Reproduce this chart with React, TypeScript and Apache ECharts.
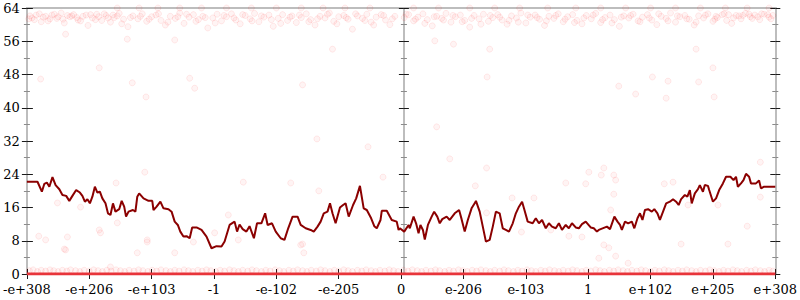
import React, { useEffect, useRef } from "react";
import * as echarts from "echarts";

// x-axis tick labels (positions -6 .. 6)
const xLabels = ["-e+308", "-e+206", "-e+103", "-1", "-e-102", "-e-205", "0", "e-206", "e-103", "1", "e+102", "e+205", "e+308"];
const yMin = 0;
const yMax = 64;
const yStep = 8;

// rolling trend line (dark red)
const trendLeft: number[][] = [
  [-6.0, 22.2], [-5.83, 22.2], [-5.76, 19.8], [-5.72, 21.7], [-5.68, 22.0], [-5.64, 21.0], [-5.59, 23.3], [-5.54, 21.4],
  [-5.48, 20.4], [-5.43, 19.0], [-5.37, 18.8], [-5.32, 17.6], [-5.27, 18.8], [-5.21, 20.2], [-5.15, 19.6], [-5.11, 18.8],
  [-5.07, 17.4], [-5.03, 18.0], [-4.99, 17.0], [-4.95, 18.6], [-4.91, 21.0], [-4.87, 19.6], [-4.83, 19.8], [-4.79, 18.2],
  [-4.74, 17.0], [-4.7, 14.6], [-4.66, 14.2], [-4.62, 17.0], [-4.58, 15.0], [-4.52, 15.6], [-4.48, 17.6], [-4.44, 16.2],
  [-4.41, 13.8], [-4.37, 15.0], [-4.3, 15.4], [-4.26, 15.0], [-4.23, 18.6], [-4.2, 19.4], [-4.13, 18.2], [-4.05, 17.6],
  [-3.99, 17.6], [-3.97, 15.4], [-3.92, 16.2], [-3.86, 17.4], [-3.81, 15.8], [-3.73, 15.6], [-3.68, 15.0], [-3.63, 12.6],
  [-3.58, 11.8], [-3.54, 10.2], [-3.49, 9.0], [-3.44, 9.1], [-3.39, 8.6], [-3.35, 11.2], [-3.28, 11.2], [-3.2, 10.6],
  [-3.12, 9.0], [-3.04, 6.2], [-2.96, 6.7], [-2.88, 6.6], [-2.83, 7.8], [-2.75, 11.8], [-2.67, 12.6], [-2.63, 10.2],
  [-2.59, 11.9], [-2.54, 10.8], [-2.48, 10.2], [-2.43, 11.5], [-2.36, 8.6], [-2.31, 12.2], [-2.24, 12.2], [-2.18, 14.6],
  [-2.14, 11.8], [-2.07, 12.2], [-2.01, 10.2], [-1.93, 8.6], [-1.87, 8.2], [-1.81, 11.0], [-1.74, 13.8], [-1.66, 13.8],
  [-1.61, 11.8], [-1.53, 11.0], [-1.45, 10.6], [-1.4, 10.2], [-1.34, 11.4], [-1.29, 12.6], [-1.24, 14.6], [-1.18, 15.0],
  [-1.14, 17.0], [-1.1, 14.6], [-1.05, 12.2], [-0.98, 16.0], [-0.93, 16.6], [-0.89, 17.0], [-0.84, 13.8], [-0.77, 16.6],
  [-0.72, 18.2], [-0.66, 21.2], [-0.6, 15.8], [-0.55, 15.4], [-0.48, 13.4], [-0.43, 11.5], [-0.39, 11.0], [-0.33, 13.0],
  [-0.31, 15.2], [-0.23, 15.2], [-0.15, 13.0], [-0.07, 12.6], [-0.04, 10.6], [-0.02, 11.0],
];
const trendRight: number[][] = [
  [0.05, 10.2], [0.12, 11.8], [0.14, 11.0], [0.2, 13.8], [0.24, 12.2], [0.28, 9.8], [0.31, 11.8], [0.35, 10.6],
  [0.38, 8.3], [0.43, 11.8], [0.49, 13.8], [0.53, 15.0], [0.58, 13.8], [0.62, 12.2], [0.66, 13.2], [0.73, 13.8],
  [0.78, 13.0], [0.86, 14.6], [0.93, 15.4], [0.97, 13.2], [1.02, 10.2], [1.07, 13.0], [1.13, 15.8], [1.18, 17.0],
  [1.2, 17.6], [1.26, 15.0], [1.31, 11.4], [1.36, 7.8], [1.42, 8.2], [1.47, 11.4], [1.52, 15.0], [1.58, 14.6],
  [1.63, 11.0], [1.68, 10.6], [1.73, 10.2], [1.79, 12.2], [1.84, 14.6], [1.89, 16.2], [1.94, 17.4], [1.97, 15.8],
  [2.03, 12.6], [2.11, 12.2], [2.16, 13.4], [2.21, 12.2], [2.26, 13.0], [2.32, 11.0], [2.37, 12.2], [2.42, 11.4],
  [2.48, 11.0], [2.53, 12.2], [2.58, 10.6], [2.64, 11.8], [2.69, 11.0], [2.74, 12.2], [2.8, 11.2], [2.85, 11.0],
  [2.9, 12.0], [2.96, 12.6], [3.04, 11.2], [3.09, 11.0], [3.14, 10.2], [3.17, 10.6], [3.3, 11.4], [3.35, 10.8],
  [3.42, 13.8], [3.47, 12.6], [3.51, 11.8], [3.54, 10.6], [3.59, 12.6], [3.64, 12.2], [3.7, 12.6], [3.74, 11.0],
  [3.79, 13.4], [3.83, 14.6], [3.87, 13.0], [3.91, 15.4], [3.96, 15.6], [4.02, 15.0], [4.06, 15.6], [4.11, 14.6],
  [4.15, 13.0], [4.2, 15.0], [4.25, 17.0], [4.31, 17.4], [4.36, 18.0], [4.41, 17.4], [4.45, 16.6], [4.49, 18.0],
  [4.55, 19.0], [4.59, 18.6], [4.63, 20.2], [4.66, 17.0], [4.71, 19.4], [4.76, 20.4], [4.79, 21.4], [4.84, 19.8],
  [4.87, 21.4], [4.92, 21.2], [4.94, 20.2], [5.0, 17.4], [5.05, 18.2], [5.1, 20.2], [5.16, 21.8], [5.21, 23.4],
  [5.28, 23.4], [5.33, 22.6], [5.37, 23.4], [5.4, 21.0], [5.45, 21.8], [5.49, 22.6], [5.53, 24.1], [5.58, 23.4],
  [5.61, 21.8], [5.69, 21.8], [5.74, 22.5], [5.77, 20.6], [5.82, 21.0], [6.0, 21.0],
];

// faint sample points near the top
const topBand: number[][] = [
  [-5.95, 62.1], [-5.92, 61.6], [-5.88, 61.2], [-5.8, 62.6], [-5.74, 61.8], [-5.7, 62.0], [-5.66, 60.9], [-5.6, 62.3],
  [-5.52, 61.5], [-5.5, 61.9], [-5.45, 62.8], [-5.4, 60.4], [-5.35, 62.2], [-5.31, 61.9], [-5.25, 62.4], [-5.2, 61.7],
  [-5.18, 61.1], [-5.1, 62.0], [-5.05, 62.3], [-5.02, 59.8], [-4.95, 61.6], [-4.88, 62.5], [-4.85, 61.9], [-4.8, 61.0],
  [-4.73, 62.2], [-4.7, 61.6], [-4.66, 60.6], [-4.6, 61.7], [-4.55, 62.1], [-4.52, 62.7], [-4.45, 61.3], [-4.38, 59.5],
  [-4.3, 62.1], [-4.22, 61.4], [-4.15, 62.6], [-4.08, 60.8], [-4.0, 61.9], [-3.93, 62.3], [-3.85, 61.0], [-3.78, 59.9],
  [-3.7, 62.0], [-3.62, 61.5], [-3.55, 62.8], [-3.48, 60.3], [-3.4, 61.8], [-3.33, 62.4], [-3.25, 61.2], [-3.18, 62.0],
  [-3.1, 59.2], [-3.02, 61.6], [-2.95, 62.5], [-2.88, 60.9], [-2.8, 61.9], [-2.72, 62.6], [-2.65, 61.1], [-2.58, 60.2],
  [-2.5, 62.2], [-2.42, 61.4], [-2.35, 62.7], [-2.28, 60.7], [-2.2, 61.8], [-2.12, 62.3], [-2.05, 59.6], [-1.97, 61.5],
  [-1.9, 62.4], [-1.82, 61.0], [-1.75, 62.1], [-1.68, 60.5], [-1.6, 61.7], [-1.52, 62.6], [-1.45, 61.2], [-1.38, 59.9],
  [-1.3, 62.0], [-1.22, 61.6], [-1.15, 62.8], [-1.08, 60.8], [-1.0, 61.9], [-0.92, 62.2], [-0.85, 61.3], [-0.78, 58.9],
  [-0.7, 62.1], [-0.62, 61.5], [-0.55, 62.5], [-0.48, 60.6], [-0.4, 61.8], [-0.32, 62.4], [-0.25, 61.1], [-0.18, 60.0],
  [-0.1, 62.0], [0.05, 61.7], [0.12, 62.4], [0.2, 60.9], [0.27, 61.8], [0.35, 62.6], [0.42, 61.2], [0.5, 59.7],
  [0.57, 62.0], [0.65, 61.5], [0.72, 62.7], [0.8, 60.6], [0.87, 61.9], [0.95, 62.3], [1.02, 61.0], [1.1, 59.4],
  [1.17, 62.2], [1.25, 61.4], [1.32, 62.5], [1.4, 60.8], [1.47, 61.7], [1.55, 62.4], [1.62, 61.1], [1.7, 60.1],
  [1.77, 62.1], [1.85, 61.6], [1.92, 62.8], [2.0, 60.4], [2.07, 61.8], [2.15, 62.3], [2.22, 61.3], [2.3, 59.8],
  [2.37, 62.0], [2.45, 61.5], [2.52, 62.6], [2.6, 60.7], [2.67, 61.9], [2.75, 62.4], [2.82, 61.0], [2.9, 60.2],
  [2.97, 62.2], [3.05, 61.4], [3.12, 62.7], [3.2, 60.5], [3.27, 61.7], [3.35, 62.3], [3.42, 61.2], [3.5, 59.6],
  [3.57, 62.1], [3.65, 61.6], [3.72, 62.5], [3.8, 60.9], [3.87, 61.8], [3.95, 62.4], [4.02, 61.1], [4.1, 60.0],
  [4.17, 62.0], [4.25, 61.5], [4.32, 62.8], [4.4, 60.6], [4.47, 61.9], [4.55, 62.2], [4.62, 61.3], [4.7, 59.9],
  [4.77, 62.1], [4.85, 61.6], [4.92, 62.6], [5.0, 60.8], [5.05, 62.0], [5.07, 61.7], [5.15, 62.4], [5.22, 61.0],
  [5.25, 62.4], [5.3, 60.3], [5.37, 62.2], [5.42, 62.1], [5.45, 61.4], [5.52, 62.7], [5.58, 62.5], [5.6, 61.9],
  [5.67, 62.3], [5.72, 61.9], [5.75, 61.2], [5.82, 62.5], [5.88, 62.4], [5.9, 61.8], [5.96, 62.2],
];
const topBandExtra: number[][] = [
  [-5.97, 61.4], [-5.85, 62.3], [-5.77, 60.7], [-5.63, 61.4], [-5.56, 62.5], [-5.42, 61.3], [-5.28, 62.1], [-5.14, 60.9],
  [-4.98, 62.4], [-4.9, 61.2], [-4.76, 62.6], [-4.62, 62.3], [-4.48, 60.2], [-4.34, 61.7], [-4.18, 62.0], [-4.04, 61.3],
  [-3.89, 62.6], [-3.74, 60.6], [-3.58, 61.9], [-3.44, 62.5], [-3.29, 60.8], [-3.14, 61.7], [-2.98, 60.4], [-2.84, 62.2],
  [-2.68, 61.6], [-2.54, 62.4], [-2.39, 60.9], [-2.24, 62.1], [-2.08, 61.2], [-1.93, 60.3], [-1.78, 61.8], [-1.63, 62.3],
  [-1.48, 60.7], [-1.34, 61.4], [-1.18, 62.5], [-1.03, 60.2], [-0.88, 61.7], [-0.73, 62.6], [-0.58, 61.0], [-0.44, 59.9],
  [-0.28, 62.2], [-0.14, 61.4], [0.08, 62.5], [0.23, 61.3], [0.38, 60.3], [0.53, 61.9], [0.68, 61.1], [0.83, 62.2],
  [0.98, 60.7], [1.13, 61.5], [1.28, 60.1], [1.43, 62.2], [1.58, 61.8], [1.73, 61.0], [1.88, 60.6], [2.03, 62.3],
  [2.18, 61.7], [2.33, 60.9], [2.48, 62.2], [2.63, 61.3], [2.78, 60.5], [2.93, 61.6], [3.08, 62.3], [3.23, 61.2],
  [3.38, 60.4], [3.53, 61.8], [3.68, 62.2], [3.83, 60.7], [3.98, 61.6], [4.13, 62.6], [4.28, 60.9], [4.43, 62.1],
  [4.58, 61.4], [4.73, 60.6], [4.88, 62.3], [5.03, 61.3], [5.18, 62.6], [5.33, 61.6], [5.48, 62.2], [5.63, 61.5],
  [5.78, 62.6], [5.93, 61.4],
];

// points sitting at the maximum
const topEdge: number[][] = [
  [-4.55, 64], [-4.2, 64], [-3.9, 64], [-3.55, 64], [-3.2, 64], [-2.8, 64], [-2.4, 64], [-2.0, 64], [-1.6, 64],
  [-1.25, 64], [-0.9, 64], [-0.5, 64], [0.2, 64], [0.6, 64], [1.1, 64], [1.5, 64], [1.9, 64], [2.35, 64], [2.8, 64],
  [3.2, 64], [3.6, 64], [4.0, 64], [4.4, 64], [4.8, 64], [5.2, 64], [5.55, 64], [5.9, 64],
];

// sparse points in the middle
const midPoints: number[][] = [
  [-5.38, 57.7], [-4.84, 49.6], [-5.78, 46.9], [-4.39, 56.5], [-4.31, 46.0], [-4.09, 42.6], [-3.63, 56.3], [-3.39, 47.1],
  [-3.31, 44.7], [4.73, 54.1], [5.0, 49.6], [4.03, 47.4], [4.28, 46.4], [4.77, 46.2], [3.49, 45.2], [3.76, 43.3],
  [4.25, 42.3], [5.02, 42.6], [-1.1, 54.1], [-1.58, 45.5], [-1.35, 32.5], [-0.53, 30.6], [0.57, 35.4], [0.78, 27.7],
  [1.37, 25.5], [1.38, 47.4], [1.42, 54.1], [0.84, 55.3], [0.54, 56.1], [-4.11, 24.5], [-4.57, 21.9], [-5.51, 17.1],
  [-4.84, 10.6], [-4.82, 9.9], [-5.35, 8.9], [-5.81, 9.1], [-5.7, 8.2], [-4.07, 8.2], [-4.55, 12.3], [-5.14, 16.1],
  [-5.38, 5.8], [-4.66, 1.7], [-2.53, 22.1], [-1.77, 21.9], [-1.32, 20.0], [-0.29, 23.3], [-2.99, 9.9], [-2.77, 14.2],
  [-2.61, 8.2], [-1.58, 7.2], [1.19, 21.2], [1.37, 14.7], [2.64, 21.9], [2.96, 21.7], [3.01, 24.5], [1.78, 18.3],
  [2.13, 18.3], [1.93, 10.1], [2.69, 9.1], [2.9, 8.9], [2.4, 10.6], [3.25, 25.5], [3.41, 23.8], [3.21, 23.8],
  [3.44, 22.6], [3.41, 19.2], [3.36, 15.4], [4.22, 21.7], [4.36, 22.1], [5.76, 26.9], [5.76, 18.5], [5.55, 11.5],
  [4.6, 16.6], [5.08, 16.6], [3.25, 7.0], [3.33, 6.3], [3.44, 4.3], [3.17, 3.8], [3.64, 2.6], [4.49, 7.2],
  [5.24, 7.2], [-5.4, 6.0], [-4.23, 5.1], [-3.63, 5.1], [-4.07, 7.7], [-3.33, 7.7], [-1.56, 5.1], [-1.61, 7.0],
];

// faint points just above zero
const bottomBand: number[][] = [
  [-5.96, 0.8], [-5.9, 1.0], [-5.83, 0.6], [-5.77, 0.9], [-5.7, 0.7], [-5.63, 1.0], [-5.57, 0.8], [-5.5, 0.6],
  [-5.43, 0.9], [-5.36, 0.7], [-5.3, 1.0], [-5.22, 0.8], [-5.15, 0.6], [-5.08, 0.9], [-5.0, 0.7], [-4.93, 1.0],
  [-4.86, 0.8], [-4.79, 0.6], [-4.72, 0.9], [-4.65, 0.7], [-4.57, 1.0], [-4.5, 0.8], [-4.43, 0.6], [-4.36, 0.9],
  [-4.28, 0.7], [-4.21, 1.0], [-4.14, 0.8], [-4.06, 0.6], [-3.99, 0.9], [-3.92, 0.7], [-3.85, 1.0], [-3.77, 0.8],
  [-3.7, 0.6], [-3.63, 0.9], [-3.56, 0.7], [-3.48, 1.0], [-3.41, 0.8], [-3.34, 0.6], [-3.26, 0.9], [-3.19, 0.7],
  [-3.12, 1.0], [-3.05, 0.8], [-2.97, 0.6], [-2.9, 0.9], [-2.83, 0.7], [-2.75, 1.0], [-2.68, 0.8], [-2.61, 0.6],
  [-2.54, 0.9], [-2.46, 0.7], [-2.39, 1.0], [-2.32, 0.8], [-2.24, 0.6], [-2.17, 0.9], [-2.1, 0.7], [-2.02, 1.0],
  [-1.95, 0.8], [-1.88, 0.6], [-1.8, 0.9], [-1.73, 0.7], [-1.66, 1.0], [-1.58, 0.8], [-1.51, 0.6], [-1.44, 0.9],
  [-1.36, 0.7], [-1.29, 1.0], [-1.22, 0.8], [-1.14, 0.6], [-1.07, 0.9], [-1.0, 0.7], [-0.92, 1.0], [-0.85, 0.8],
  [-0.78, 0.6], [-0.7, 0.9], [-0.63, 0.7], [-0.56, 1.0], [-0.48, 0.8], [-0.41, 0.6], [-0.34, 0.9], [-0.26, 0.7],
  [-0.19, 1.0], [-0.12, 0.8], [-0.05, 0.6], [0.04, 0.9], [0.11, 0.7], [0.18, 1.0], [0.26, 0.8], [0.33, 0.6],
  [0.4, 0.9], [0.48, 0.7], [0.55, 1.0], [0.62, 0.8], [0.7, 0.6], [0.77, 0.9], [0.84, 0.7], [0.92, 1.0],
  [0.99, 0.8], [1.06, 0.6], [1.14, 0.9], [1.21, 0.7], [1.28, 1.0], [1.36, 0.8], [1.43, 0.6], [1.5, 0.9],
  [1.58, 0.7], [1.65, 1.0], [1.72, 0.8], [1.8, 0.6], [1.87, 0.9], [1.94, 0.7], [2.02, 1.0], [2.09, 0.8],
  [2.16, 0.6], [2.24, 0.9], [2.31, 0.7], [2.38, 1.0], [2.46, 0.8], [2.53, 0.6], [2.6, 0.9], [2.68, 0.7],
  [2.75, 1.0], [2.82, 0.8], [2.9, 0.6], [2.97, 0.9], [3.04, 0.7], [3.12, 1.0], [3.19, 0.8], [3.26, 0.6],
  [3.34, 0.9], [3.41, 0.7], [3.48, 1.0], [3.56, 0.8], [3.63, 0.6], [3.7, 0.9], [3.78, 0.7], [3.85, 1.0],
  [3.92, 0.8], [4.0, 0.6], [4.07, 0.9], [4.14, 0.7], [4.22, 1.0], [4.29, 0.8], [4.36, 0.6], [4.44, 0.9],
  [4.51, 0.7], [4.58, 1.0], [4.66, 0.8], [4.73, 0.6], [4.8, 0.9], [4.88, 0.7], [4.95, 1.0], [5.02, 0.8],
  [5.1, 0.6], [5.17, 0.9], [5.24, 0.7], [5.32, 1.0], [5.39, 0.8], [5.46, 0.6], [5.54, 0.9], [5.61, 0.7],
  [5.68, 1.0], [5.76, 0.8], [5.83, 0.6], [5.9, 0.9], [5.96, 0.7],
];

// dense run of samples exactly at zero
const zeroRowX: number[] = [
  -6, -5.41, -4.77, -4.12, -3.5, -2.86, -2.2, -1.58, -0.93, -0.31, 0.3, 0.94, 1.57, 2.2, 2.85, 3.48, 4.1, 4.76, 5.4, 6,
];

const FONT = "DejaVu Serif";
const axisGrey = { color: "#bdbdbd", width: 2 };
const majorTickStyle = { color: "#1a1a1a", width: 1 };
const minorTickStyle = { color: "#8a8a8a", width: 1 };

function yAxisDef(position: "left" | "right", inside: boolean, showLine: boolean, showLabel: boolean, offset: number, len: number) {
  return {
    type: "value",
    position,
    offset,
    min: yMin,
    max: yMax,
    interval: yStep,
    axisLine: { show: showLine, onZero: false, lineStyle: axisGrey },
    axisTick: { show: true, inside, length: len, lineStyle: majorTickStyle },
    minorTick: { show: true, splitNumber: 2, length: 3, lineStyle: minorTickStyle },
    axisLabel: {
      show: showLabel,
      fontFamily: FONT,
      fontSize: 13,
      color: "#000",
      margin: 7,
    },
    splitLine: { show: false },
    minorSplitLine: { show: false },
  };
}

export default function App() {
  const ref = useRef<HTMLDivElement>(null);
  useEffect(() => {
    if (!ref.current) return;
    const chart = echarts.init(ref.current, undefined, { renderer: "svg" });
    const pointStyle = {
      color: "rgba(255, 40, 40, 0.065)",
      borderColor: "rgba(255, 0, 0, 0.1)",
      borderWidth: 1,
    };
    const xCommon = { type: "value", min: -6, max: 6, interval: 1, splitLine: { show: false } };
    chart.setOption({
      animation: false,
      grid: { left: 24, right: 22, top: 8, bottom: 26 },
      xAxis: [
        {
          ...xCommon,
          position: "bottom",
          axisLine: { show: true, onZero: false, lineStyle: axisGrey },
          axisTick: { show: true, inside: false, length: 5, lineStyle: majorTickStyle },
          axisLabel: {
            fontFamily: FONT,
            fontSize: 13,
            color: "#000",
            margin: 9,
            formatter: (v: number) => xLabels[Math.round(v + 6)] ?? "",
          },
        },
        {
          ...xCommon,
          position: "bottom",
          axisLine: { show: false, onZero: false },
          axisTick: { show: true, inside: true, length: 5, lineStyle: majorTickStyle },
          axisLabel: { show: false },
        },
        {
          ...xCommon,
          position: "top",
          axisLine: { show: true, onZero: false, lineStyle: axisGrey },
          axisTick: { show: false },
          axisLabel: { show: false },
        },
      ],
      yAxis: [
        yAxisDef("left", false, true, true, 0, 5),
        yAxisDef("left", true, false, false, 0, 6),
        yAxisDef("right", false, true, false, 0, 5),
        yAxisDef("right", true, false, false, 0, 5),
        yAxisDef("left", false, true, false, -377, 5),
        yAxisDef("left", true, false, false, -377, 5),
      ],
      series: [
        {
          type: "scatter",
          symbol: "circle",
          symbolSize: 6,
          itemStyle: pointStyle,
          data: [...topBand, ...topBandExtra, ...topEdge, ...midPoints, ...bottomBand],
          z: 1,
        },
        {
          type: "line",
          showSymbol: false,
          symbol: "none",
          lineStyle: { color: "#e8343a", width: 3 },
          data: zeroRowX.map((x) => [x, 0]),
          z: 2,
        },
        {
          type: "line",
          showSymbol: false,
          symbol: "none",
          lineStyle: { color: "#8b0000", width: 2 },
          data: [...trendLeft, ...trendRight],
          z: 3,
        },
      ],
    });
    return () => chart.dispose();
  }, []);
  return (
    <div
      ref={ref}
      style={{ position: "fixed", left: 0, top: 0, width: 800, height: 300, background: "#fff" }}
    />
  );
}
